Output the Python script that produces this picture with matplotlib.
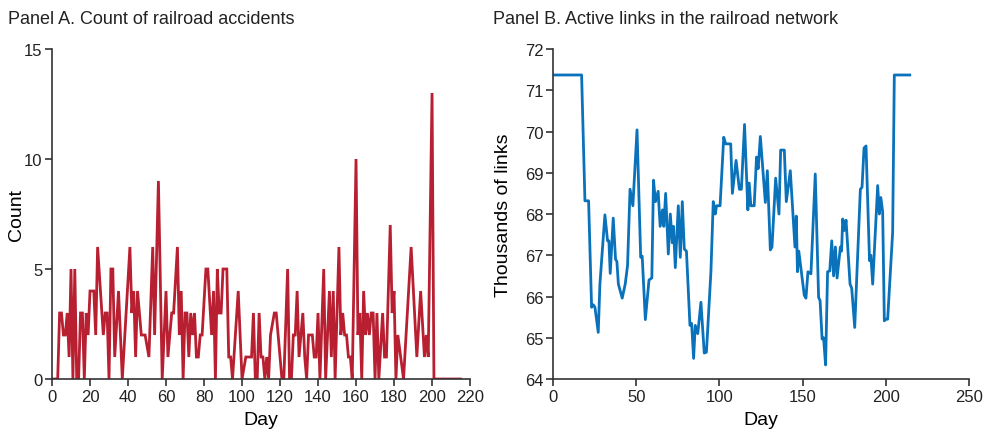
import matplotlib
matplotlib.use("Agg")
import matplotlib.pyplot as plt

plt.rcParams['font.family'] = ['Liberation Sans', 'DejaVu Sans']

# Panel A: railroad accidents per day (day, count) vertices
acc_day = [0, 3, 4, 5, 6, 7, 8, 9, 10, 11, 12, 13, 14, 15, 16, 17, 18, 19, 20, 22, 23, 24,
           27, 28, 29, 30, 31, 32, 33, 35, 37, 41, 42, 43, 44, 45, 47, 49, 51, 53, 54, 56,
           58, 60, 61, 63, 64, 66, 67, 68, 69, 70, 71, 72, 73, 74, 75, 76, 77, 78, 79, 81,
           82, 84, 85, 86, 87, 88, 89, 90, 92, 93, 94, 95, 98, 100, 102, 105, 106, 107, 108,
           109, 110, 111, 112, 113, 114, 115, 117, 118, 119, 121, 122, 124, 125, 126, 127,
           128, 129, 130, 132, 133, 134, 135, 137, 138, 139, 140, 141, 143, 144, 145, 146,
           147, 148, 149, 151, 152, 153, 154, 155, 156, 157, 158, 160, 161, 162, 163, 164,
           165, 166, 167, 168, 169, 170, 171, 172, 174, 175, 176, 178, 179, 180, 181, 182,
           185, 189, 192, 194, 196, 197, 198, 200, 201, 215]
acc_cnt = [0, 0, 3, 3, 2, 2, 3, 1, 5, 0, 5, 0, 0, 3, 3, 0, 3, 2, 4, 4, 2, 6,
           2, 3, 3, 0, 5, 5, 1, 4, 0, 6, 3, 4, 1, 4, 2, 2, 1, 6, 2, 9,
           0, 4, 1, 3, 3, 6, 2, 4, 0, 3, 3, 1, 3, 2, 3, 1, 1, 2, 2, 5,
           5, 2, 4, 0, 5, 3, 3, 5, 5, 1, 1, 0, 4, 0, 1, 1, 3, 0, 0,
           3, 1, 1, 0, 1, 0, 2, 3, 3, 2, 0, 0, 5, 0, 0, 2,
           2, 4, 1, 3, 1, 0, 2, 2, 1, 1, 3, 0, 5, 0, 2, 4,
           1, 4, 0, 6, 2, 3, 2, 2, 1, 1, 0, 10, 2, 3, 0, 4,
           2, 3, 2, 3, 3, 0, 3, 0, 3, 1, 1, 7, 3, 4, 0, 2,
           0, 6, 1, 4, 1, 2, 1, 13, 0, 0]

# Panel B: active links (thousands) vertices
link_day = [0, 17.2, 19.2, 21.4, 23.2, 24.2, 25.2, 27.2, 28.2, 31.2, 32.8, 33.6, 34.4, 36.2,
            37.6, 38.4, 39.3, 41.6, 43.4, 44.8, 46.3, 48, 50.5, 52.7, 53.6, 55.5, 57.7, 59.4,
            60.4, 61.6, 63.2, 64.4, 65.8, 66.6, 67.7, 69.3, 70.5, 71.7, 72.4, 73.5, 75.3,
            76.5, 77.7, 78.9, 80.2, 82.3, 83.3, 84.5, 85.5, 87, 88.9, 90.9, 92.2, 94.9, 96.3,
            97.5, 98.3, 100.4, 102.6, 103.8, 106.8, 107.8, 110, 112, 113.2, 115.1, 117.1,
            117.9, 118.9, 120.9, 122.3, 123.3, 124.6, 127.6, 128.8, 130.6, 131.6, 133.8,
            135.8, 136.8, 139, 140.2, 142.6, 145.4, 146.2, 146.9, 147.7, 151, 152, 153.2,
            155, 157.6, 159.6, 160.5, 161.7, 162.6, 163.8, 165, 166.3, 167.5, 168.6, 169.7,
            170.7, 172.7, 173.4, 174.1, 175, 176.1, 178.5, 179.5, 181.3, 184.7, 185.7, 186.9,
            188.1, 190.2, 191, 192.1, 195.1, 196.1, 197, 198.1, 199.1, 200.1, 201.1, 204.1,
            205.1, 214.4]
link_val = [71.37, 71.37, 68.32, 68.32, 65.74, 65.8, 65.74, 65.13, 66.3, 67.98, 67.35, 67.35,
            66.56, 67.9, 66.9, 66.85, 66.3, 65.96, 66.3, 66.75, 68.6, 68.2, 70.04, 66.95,
            66.98, 65.44, 66.4, 66.45, 68.82, 68.3, 68.55, 67.7, 68.1, 67.7, 68.5, 67.03,
            68.0, 67.3, 67.7, 66.7, 68.2, 66.95, 68.3, 67.15, 67.1, 65.3, 65.35, 64.5, 65.3,
            65.1, 65.86, 64.63, 64.65, 66.6, 68.3, 68.0, 68.2, 68.2, 69.86, 69.7, 69.7, 68.5,
            69.3, 68.6, 68.6, 70.17, 68.1, 68.75, 68.2, 68.2, 69.38, 69.1, 69.88, 68.28, 69.05,
            67.13, 67.2, 68.87, 68.0, 69.55, 69.55, 68.3, 69.05, 67.2, 67.95, 66.6, 67.1,
            66.03, 65.96, 66.6, 66.55, 68.97, 65.98, 65.9, 64.97, 65.0, 64.34, 66.6, 66.62,
            67.35, 66.5, 67.2, 66.45, 67.2, 67.1, 67.88, 67.6, 67.85, 66.3, 66.2, 65.25, 68.6,
            68.65, 69.6, 69.65, 66.87, 67.0, 66.3, 68.69, 68.0, 68.4, 68.05, 65.41, 65.45,
            65.45, 67.56, 71.37, 71.37]

red = '#B81F31'
blue = '#0A72BA'
spine_col = '#333333'

fig = plt.figure(figsize=(9.85, 4.31), dpi=100)
axA = fig.add_axes([0.0528, 0.1183, 0.4244, 0.7657])
axB = fig.add_axes([0.5614, 0.1183, 0.4224, 0.7657])

axA.plot(acc_day, acc_cnt, color=red, lw=2.0, solid_joinstyle='miter')
axA.set_xlim(0, 220)
axA.set_ylim(0, 15)
axA.set_xticks(range(0, 221, 20))
axA.set_yticks([0, 5, 10, 15])
axA.set_xlabel('Day', fontsize=14, labelpad=5)
axA.set_ylabel('Count', fontsize=14)
axA.yaxis.set_label_coords(-0.064, 0.5)

axB.plot(link_day, link_val, color=blue, lw=2.0)
axB.set_xlim(0, 250)
axB.set_ylim(64, 72)
axB.set_xticks(range(0, 251, 50))
axB.set_yticks(range(64, 73))
axB.set_xlabel('Day', fontsize=14, labelpad=5)
axB.set_ylabel('Thousands of links', fontsize=14)
axB.yaxis.set_label_coords(-0.099, 0.5)

for ax in (axA, axB):
    ax.spines['top'].set_visible(False)
    ax.spines['right'].set_visible(False)
    for s in ('left', 'bottom'):
        ax.spines[s].set_color(spine_col)
        ax.spines[s].set_linewidth(1.2)
    ax.tick_params(direction='out', length=5, width=1.2, color=spine_col,
                   labelsize=12, labelcolor='#222222', pad=2)

fig.text(0.008, 0.955, 'Panel A. Count of railroad accidents', fontsize=13,
         ha='left', va='center', color='#222222')
fig.text(0.5005, 0.955, 'Panel B. Active links in the railroad network', fontsize=13,
         ha='left', va='center', color='#222222')

fig.savefig('out.png', dpi=100)
